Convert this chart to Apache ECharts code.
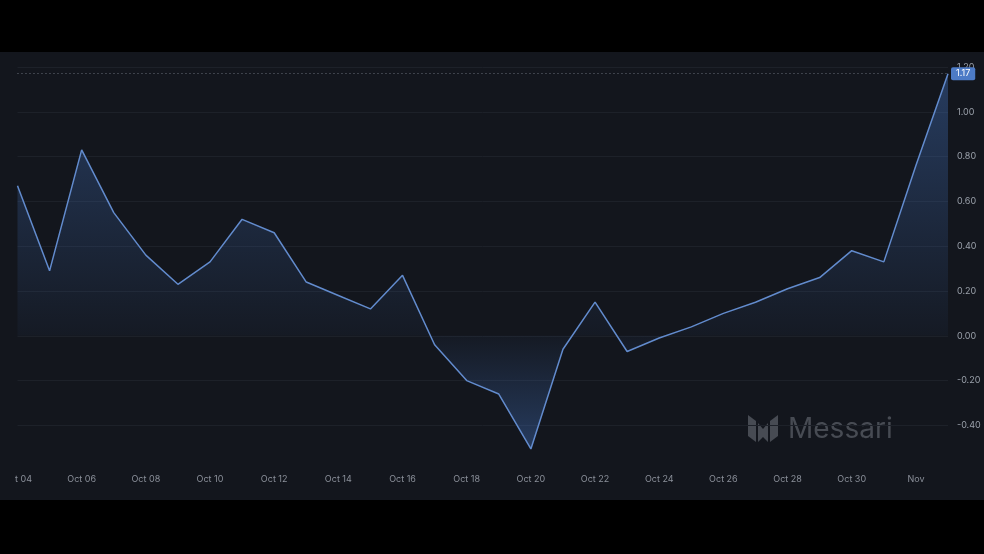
<!DOCTYPE html>
<html>
<head>
<meta charset="utf-8">
<script src="https://cdn.jsdelivr.net/npm/echarts@6/dist/echarts.min.js"></script>
<style>
html,body{margin:0;padding:0;background:#000;width:984px;height:554px;overflow:hidden;}
#band{position:absolute;left:0;top:52px;width:984px;height:448px;background:#13161d;}
#clip{position:absolute;left:0;top:0;width:984px;height:448px;overflow:hidden;clip-path:inset(0 0 0 15px);}
#chart{position:absolute;left:0;top:0;width:984px;height:448px;}
#clipbg{position:absolute;left:0;top:0;width:984px;height:448px;background:#13161d;}
</style>
</head>
<body>
<div id="band"><div id="clipbg"></div><div id="clip"><div id="chart"></div></div></div>
<script>
const categories = ['Oct 04','Oct 05','Oct 06','Oct 07','Oct 08','Oct 09','Oct 10','Oct 11','Oct 12','Oct 13',
  'Oct 14','Oct 15','Oct 16','Oct 17','Oct 18','Oct 19','Oct 20','Oct 21','Oct 22','Oct 23',
  'Oct 24','Oct 25','Oct 26','Oct 27','Oct 28','Oct 29','Oct 30','Oct 31','Nov 01','Nov 02'];
const values = [0.67,0.29,0.83,0.55,0.36,0.23,0.33,0.52,0.46,0.24,
  0.18,0.12,0.27,-0.04,-0.20,-0.26,-0.505,-0.06,0.15,-0.07,
  -0.01,0.04,0.10,0.15,0.21,0.26,0.38,0.33,0.76,1.17];
const yMin = -0.6, yMax = 1.2, yStep = 0.2;
const lastValue = values[values.length - 1];

const vMax = Math.max(...values), vMin = Math.min(...values);
const zeroFrac = vMax / (vMax - vMin);
const nTicks = Math.round((yMax - yMin) / yStep) + 1;
const splitColors = [];
for (let i = 0; i < nTicks; i++) splitColors.push(i === 0 ? 'rgba(0,0,0,0)' : '#1d2129');

const plotTop = 15, pxPerUnit = 224, bandH = 448;
const chart = echarts.init(document.getElementById('chart'));
chart.setOption({
  backgroundColor: '#13161d',
  animation: false,
  grid: {left: 15, right: 36, top: plotTop, bottom: bandH - (plotTop + (yMax - yMin) * pxPerUnit), containLabel: false},
  xAxis: {
    type: 'category',
    data: categories,
    boundaryGap: false,
    axisLine: {show: false},
    axisTick: {show: false},
    splitLine: {show: false},
    axisLabel: {
      interval: 1,
      margin: 5,
      color: '#8b909a',
      fontSize: 9,
      fontFamily: 'Inter, sans-serif',
      formatter: v => v.endsWith(' 01') ? v.slice(0, 3) : v
    }
  },
  yAxis: {
    type: 'value',
    position: 'right',
    min: yMin, max: yMax, interval: yStep,
    axisLine: {show: false},
    axisTick: {show: false},
    splitLine: {show: true, lineStyle: {color: splitColors, width: 1}},
    axisLabel: {
      margin: 9,
      color: '#9aa0aa',
      fontSize: 9,
      fontFamily: 'Inter, sans-serif',
      formatter: v => Math.abs(v - yMin) < 1e-9 ? '' : v.toFixed(2)
    }
  },
  series: [{
    type: 'line',
    data: values,
    symbol: 'none',
    lineStyle: {color: '#628bcd', width: 1.5},
    areaStyle: {
      color: new echarts.graphic.LinearGradient(0, 0, 0, 1, [
        {offset: 0, color: 'rgba(70,120,200,0.55)'},
        {offset: zeroFrac, color: 'rgba(70,120,200,0.06)'},
        {offset: 1, color: 'rgba(70,120,200,0.55)'}
      ])
    },
    markLine: {
      silent: true,
      symbol: 'none',
      lineStyle: {type: [1, 3], color: '#6a707a', width: 1},
      label: {
        position: 'end',
        formatter: lastValue.toFixed(2),
        backgroundColor: '#4d7bc6',
        color: '#ffffff',
        fontSize: 9,
        fontFamily: 'Inter, sans-serif',
        padding: [2, 5, 2, 5],
        borderRadius: 2,
        distance: 3
      },
      data: [{yAxis: lastValue}]
    }
  }],
  graphic: [
    {
      type: 'group', left: 748, top: 363,
      children: [
        {type: 'polygon', shape: {points: [[0,0],[8,6],[8,27],[0,21]]}, style: {fill: '#474b53'}},
        {type: 'polygon', shape: {points: [[10,8],[15,14],[20,8],[20,27],[15,22],[10,27]]}, style: {fill: '#474b53'}},
        {type: 'polygon', shape: {points: [[22,6],[30,0],[30,21],[22,27]]}, style: {fill: '#474b53'}}
      ]
    },
    {
      type: 'text', left: 788, top: 364,
      style: {text: 'Messari', fill: '#474b53', font: '400 28px Inter, sans-serif'}
    }
  ]
});
</script>
</body>
</html>
